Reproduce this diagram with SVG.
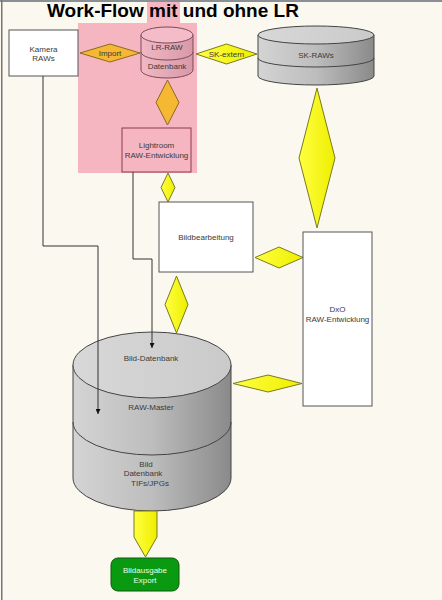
<svg xmlns="http://www.w3.org/2000/svg" width="442" height="600" viewBox="0 0 442 600">
<defs>
<style>
.t{font-family:"Liberation Sans",Arial,sans-serif;font-size:8px;fill:#3a3a3a;text-anchor:middle}
.box{fill:#ffffff;stroke:#555;stroke-width:1}
.yd{fill:url(#yg);stroke:#7a7a20;stroke-width:1}
.od{fill:#f6b732;stroke:#8a6a20;stroke-width:1}
.ln{fill:none;stroke:#333;stroke-width:1}
</style>
<linearGradient id="yg" x1="0" y1="0" x2="1" y2="0">
<stop offset="0" stop-color="#ffff40"/><stop offset="1" stop-color="#eeee00"/>
</linearGradient>
<linearGradient id="cg" x1="0" y1="0" x2="1" y2="0">
<stop offset="0" stop-color="#d4d4d4"/><stop offset="0.5" stop-color="#bdbdbd"/><stop offset="1" stop-color="#8a8a8a"/>
</linearGradient>
<linearGradient id="ct" x1="0" y1="0" x2="1" y2="0">
<stop offset="0" stop-color="#d8d8d8"/><stop offset="1" stop-color="#cacaca"/>
</linearGradient>
<linearGradient id="pg" x1="0" y1="0" x2="1" y2="0">
<stop offset="0" stop-color="#f2b8c4"/><stop offset="1" stop-color="#d898a8"/>
</linearGradient>
<marker id="ah" viewBox="0 0 10 10" refX="10" refY="5" markerWidth="5" markerHeight="5" orient="auto">
<path d="M0,0 L10,5 L0,10 z" fill="#111"/>
</marker>
</defs>
<rect x="0" y="0" width="442" height="600" fill="#fbf8f0"/>
<rect x="0" y="0" width="442" height="2" fill="#8a8f95"/>
<rect x="1" y="0" width="1.5" height="600" fill="#777"/>
<rect x="78" y="23" width="119" height="150" fill="#f5b6c2"/>
<rect x="147" y="2" width="33" height="21" fill="#f5b6c2"/>
<text x="47" y="17" style="font-family:'Liberation Sans',Arial,sans-serif;font-size:19px;font-weight:bold;fill:#000">Work-Flow mit und ohne LR</text>

<g id="kamera">
<rect class="box" x="9" y="30" width="69" height="46"/>
<text class="t" x="43.5" y="52">Kamera</text>
<text class="t" x="43.5" y="61">RAWs</text>
</g>

<g id="import">
<polygon class="od" points="80,53 110,44 140,53 110,62"/>
<text class="t" x="110" y="56">Import</text>
</g>

<g id="lr-raw">
<path d="M141,35 V70 A26,8 0 0 0 193,70 V35 Z" fill="url(#pg)" stroke="#7a4a58"/>
<ellipse cx="167" cy="35" rx="26" ry="8" fill="#f4bcc8" stroke="#7a4a58"/>
<path d="M141,52 A26,8 0 0 0 193,52" fill="none" stroke="#7a4a58"/>
<text class="t" x="167" y="50">LR-RAW</text>
<text class="t" x="167" y="69">Datenbank</text>
</g>

<g id="sk-extern">
<polygon class="yd" points="196,54 226.5,44 257,54 226.5,64"/>
<text class="t" x="226.5" y="57">SK-extern</text>
</g>

<g id="sk-raws">
<path d="M258,35 V76 A58,9 0 0 0 374,76 V35 Z" fill="url(#cg)" stroke="#444"/>
<ellipse cx="316" cy="35" rx="58" ry="9" fill="url(#ct)" stroke="#444"/>
<path d="M258,58 A58,9 0 0 0 374,58" fill="none" stroke="#444"/>
<text class="t" x="316" y="58">SK-RAWs</text>
</g>

<g id="lr-dia">
<polygon class="od" points="167.5,80 179,102.5 167.5,125 156,102.5"/>
</g>

<g id="lightroom">
<rect x="122" y="128" width="69" height="44" fill="#f5b6c2" stroke="#8a3a4a"/>
<text class="t" x="156.5" y="148">Lightroom</text>
<text class="t" x="156.5" y="158">RAW-Entwicklung</text>
</g>

<g id="sk-dia">
<polygon class="yd" points="317,88 335,158 317,228 299,158"/>
</g>

<g id="lr-bb-dia">
<polygon class="yd" points="168,173 175,187.5 168,202 161,187.5"/>
</g>

<g id="bildbearbeitung">
<rect class="box" x="159" y="202" width="94" height="70"/>
<text class="t" x="206" y="240">Bildbearbeitung</text>
</g>

<g id="bb-dxo-dia">
<polygon class="yd" points="255,257.5 279,247 303,257.5 279,268"/>
</g>

<g id="dxo">
<rect class="box" x="303" y="232" width="69" height="174"/>
<text class="t" x="337.5" y="312">DxO</text>
<text class="t" x="337.5" y="322">RAW-Entwicklung</text>
</g>

<g id="bb-db-dia">
<polygon class="yd" points="176.5,276 188,304.5 176.5,333 165,304.5"/>
</g>

<g id="db-dxo-dia">
<polygon class="yd" points="233,383.5 268,375 302,383.5 268,392"/>
</g>

<g id="bild-db">
<path d="M73,365 V478 A79,33 0 0 0 231,478 V365 Z" fill="url(#cg)" stroke="#444"/>
<ellipse cx="152" cy="365" rx="79" ry="33" fill="url(#ct)" stroke="#444"/>
<path d="M73,422 A79,33 0 0 0 231,422" fill="none" stroke="#444"/>
<text class="t" x="151" y="361">Bild-Datenbank</text>
<text class="t" x="151" y="410">RAW-Master</text>
<text class="t" x="146" y="467">Bild</text>
<text class="t" x="143" y="476">Datenbank</text>
<text class="t" x="150" y="486">TIFs/JPGs</text>
</g>

<g id="export-arrow">
<polygon class="yd" points="134,511 157,511 157,537 145.5,557 134,537"/>
</g>

<g id="bildausgabe">
<rect x="111" y="558" width="68" height="33" rx="7" fill="#0a9a12" stroke="#0a5a0a"/>
<text class="t" x="145" y="573" style="fill:#e8ffe8">Bildausgabe</text>
<text class="t" x="145" y="583" style="fill:#e8ffe8">Export</text>
</g>

<g id="connectors">
<polyline class="ln" points="43,76 43,246 98,246 98,414" marker-end="url(#ah)"/>
<polyline class="ln" points="133,172 133,259 152,259 152,348" marker-end="url(#ah)"/>
</g>
</svg>
